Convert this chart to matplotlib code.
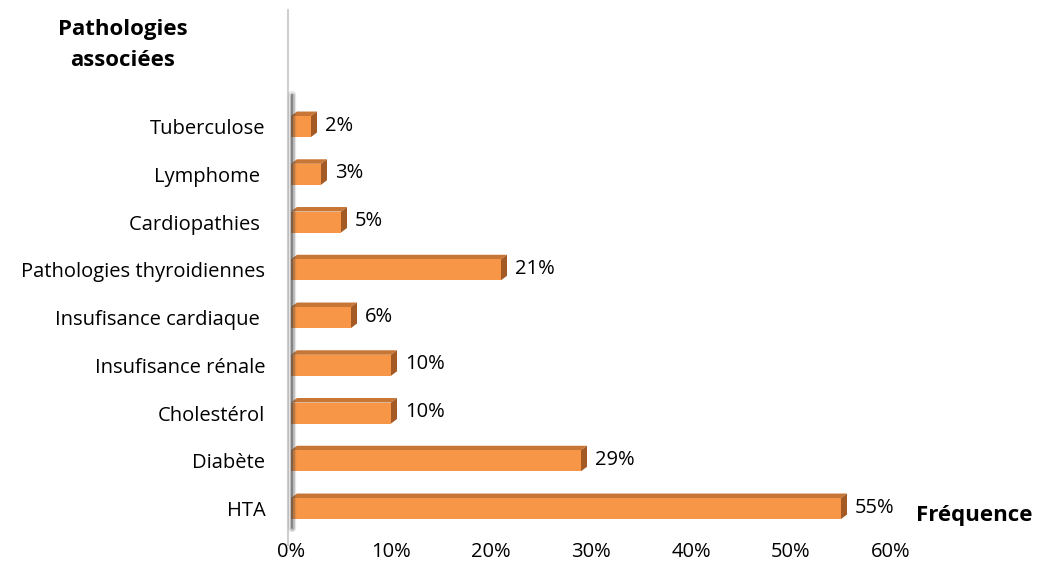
import numpy as np
import matplotlib
matplotlib.use("Agg")
import matplotlib.pyplot as plt
from matplotlib.patches import Polygon, Rectangle
from matplotlib.lines import Line2D

plt.rcParams["font.family"] = ["Open Sans", "DejaVu Sans"]

## data
categories = ["HTA", "Diabète", "Cholestérol", "Insufisance rénale",
              "Insufisance cardiaque ", "Pathologies thyroidiennes",
              "Cardiopathies ", "Lymphome ", "Tuberculose"]
values = [55, 29, 10, 10, 6, 21, 5, 3, 2]
xticks = [0, 10, 20, 30, 40, 50, 60]

front = "#F79646"
top = "#C77636"
side = "#A45A24"

W, H = 1037, 579
fig = plt.figure(figsize=(W / 100, H / 100), dpi=100)
ax_l, ax_w = 291, 600
ax_b, ax_h = 46.6, 429.75
ax = fig.add_axes([ax_l / W, ax_b / H, ax_w / W, ax_h / H])
ax.set_xlim(0, 60)
ax.set_ylim(-0.5, len(categories) - 0.5)

h = 0.44
# depth of the 3d bars in data units
dx = 6 / (ax_w / 60)
dy = 4.5 / (ax_h / len(categories))

for i, v in enumerate(values):
    y0, y1 = i - h / 2, i + h / 2
    ax.add_patch(Polygon([(0, y1), (v, y1), (v + dx, y1 + dy), (dx, y1 + dy)],
                         closed=True, fc=top, ec="none"))
    ax.add_patch(Polygon([(v, y0), (v + dx, y0 + dy), (v + dx, y1 + dy), (v, y1)],
                         closed=True, fc=side, ec="none"))
    ax.add_patch(Rectangle((0, y0), v, h, fc=front, ec="none"))
    ax.text(v + dx + 0.8, i + 0.02, f"{v}%", va="center", ha="left", fontsize=14.5)

ax.set_yticks(range(len(categories)))
ax.set_yticklabels(categories, fontsize=14.5)
ax.set_xticks(xticks)
ax.set_xticklabels([f"{t}%" for t in xticks], fontsize=14.5)
ax.tick_params(length=0)
ax.tick_params(axis="x", pad=7)
ax.tick_params(axis="y", pad=18.5)
for s in ax.spines.values():
    s.set_visible(False)

# back wall edge with its shadow
fig.add_artist(Line2D([288 / W, 288 / W], [1 - 10 / H, 1 - 545 / H],
                      color="#CFCFCF", lw=1.5))
for lw, a in [(6, 0.12), (3.5, 0.25), (1.5, 0.45)]:
    fig.add_artist(Line2D([292 / W, 292 / W], [1 - 95 / H, 1 - 528 / H],
                          color="#404040", lw=lw, alpha=a, solid_capstyle="round"))

fig.text(123 / W, 1 - 30 / H, "Pathologies", ha="center", va="center",
         fontsize=16, fontweight="bold")
fig.text(123 / W, 1 - 60 / H, "associées", ha="center", va="center",
         fontsize=16, fontweight="bold")
fig.text(916 / W, 1 - 515 / H, "Fréquence", ha="left", va="center",
         fontsize=16, fontweight="bold")

fig.savefig("out.png", dpi=100)
